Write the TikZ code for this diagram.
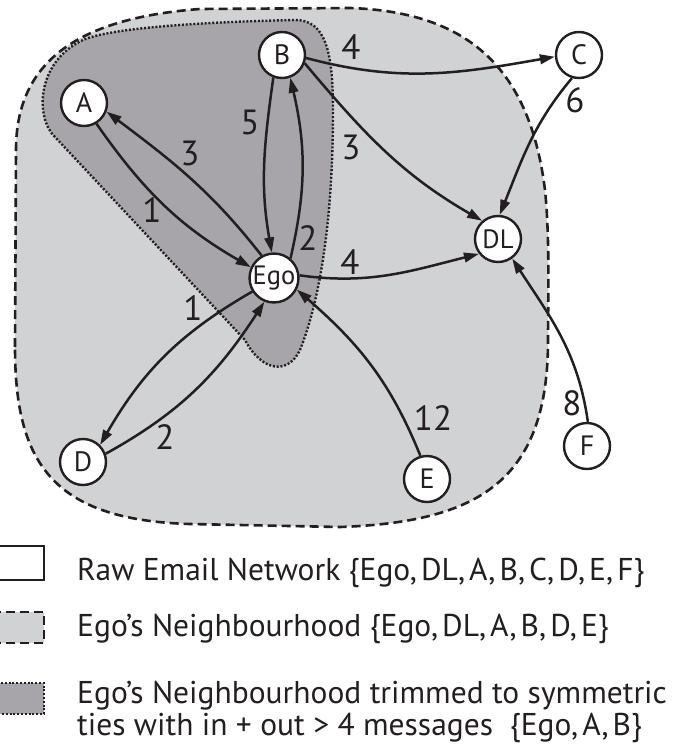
\documentclass[tikz,border=0pt]{standalone}
\usepackage{fontspec}
\setmainfont{PT Sans}
\usetikzlibrary{arrows.meta}
\definecolor{ink}{HTML}{231F20}
\definecolor{hoodgray}{HTML}{D1D2D4}
\definecolor{coregray}{HTML}{A7A5AA}
% tight separator inside the member sets
\newcommand{\msep}{,\hspace{0.13em}}

\begin{document}
\begin{tikzpicture}[x=1pt,y=-1pt,
  person/.style={circle,draw=ink,fill=white,line width=2.4pt,minimum size=46pt,
    inner sep=0pt,font=\fontsize{28}{28}\selectfont,text=ink},
  small/.style={font=\fontsize{26.5}{26.5}\selectfont},
  tie/.style={draw=ink,line width=2.5pt,-{Triangle[length=15pt,width=9.5pt]}},
  count/.style={font=\fontsize{35}{35}\selectfont,text=ink,inner sep=0pt},
  legend/.style={font=\fontsize{31.5}{31.5}\selectfont,text=ink,anchor=base west,inner sep=0pt},
  hood/.style={draw=ink,fill=hoodgray,line width=2.6pt,dash pattern=on 9pt off 5pt},
  core/.style={draw=ink,fill=coregray,line width=2.4pt,dash pattern=on 2pt off 1.8pt},
  raw/.style={draw=ink,fill=white,line width=2.5pt}]

\useasboundingbox (0,0) rectangle (686,744);

% neighbourhood of Ego
\path[hood] (15,347) -- (16,150)
  .. controls (16,60) and (80,18) .. (200,9)
  -- (350,8)
  .. controls (470,12) and (530,70) .. (545,190)
  .. controls (550,240) and (548,300) .. (548,340)
  .. controls (548,480) and (480,522) .. (340,527)
  -- (190,524)
  .. controls (50,520) and (15,460) .. (15,347) -- cycle;

% trimmed neighbourhood
\path[core] (55,137)
  .. controls (35,118) and (36,62) .. (83,40)
  .. controls (110,28) and (200,22) .. (295,20)
  .. controls (325,20) and (333,50) .. (333,110)
  .. controls (333,220) and (320,300) .. (300,350)
  .. controls (288,375) and (262,372) .. (245,340)
  -- cycle;

% people
\node[person] (A) at (84,103) {A};
\node[person] (B) at (282,55) {B};
\node[person] (C) at (579,55) {C};
\node[person,small] (Ego) at (274,278) {Ego};
\node[person,small] (DL) at (498,239) {DL};
\node[person] (D) at (83,462) {D};
\node[person] (E) at (427,479) {E};
\node[person] (F) at (587,446) {F};

% messages
\draw[tie] (A.-59) to[out=-55,in=150] (Ego.155);
\draw[tie] (Ego.119) to[out=128,in=-37] (A.-21);
\draw[tie] (B.-111) to[out=-98,in=100] (Ego.95);
\draw[tie] (Ego.50) to[out=77,in=-77] (B.-70);
\draw[tie] (B.-7) to[out=-15,in=190] (C.184);
\draw[tie] (B.-20) to[out=-50,in=150] (DL.131);
\draw[tie] (C.-107) to[out=-130,in=68] (DL.86);
\draw[tie] (Ego.6) to[out=-8,in=194] (DL.-142);
\draw[tie] (E.106) to[out=112,in=-41] (Ego.-27);
\draw[tie] (F.88) to[out=98,in=-57] (DL.-54);
\draw[tie] (Ego.-148) to[out=210,in=60] (D.45);
\draw[tie] (D.20) to[out=29,in=-123] (Ego.-112);

% message counts
\node[count] (nBC) at (351,47) {4};
\node[count] (nBDL) at (351,147) {3};
\node[count] (nCDL) at (575,100) {6};
\node[count] (nBEgo) at (250,122) {5};
\node[count] (nEgoA) at (190,153) {3};
\node[count] (nAEgo) at (152,210) {1};
\node[count] (nEgoB) at (308,238) {2};
\node[count] (nEgoDL) at (350,262) {4};
\node[count] (nEgoD) at (193,308) {1};
\node[count] (nDEgo) at (165,437) {2};
\node[count] (nEEgo) at (433,418) {12};
\node[count] (nFDL) at (572,403) {8};

% legend
\path[raw] (-5,546) rectangle (44,580);
\path[hood] (-5,612) rectangle (44,643);
\path[core] (-5,683) rectangle (44,714);
\node[legend] (l1) at (77,580) {Raw Email Network \{Ego\msep DL\msep A\msep B\msep C\msep D\msep E\msep F\}};
\node[legend] (l2) at (77,636) {Ego’s Neighbourhood \{Ego\msep DL\msep A\msep B\msep D\msep E\}};
\node[legend] (l3) at (77,703) {Ego’s Neighbourhood trimmed to symmetric};
\node[legend] (l4) at (77,735) {ties with in + out > 4 messages\ \ \{Ego\msep A\msep B\}};
\end{tikzpicture}
\end{document}
